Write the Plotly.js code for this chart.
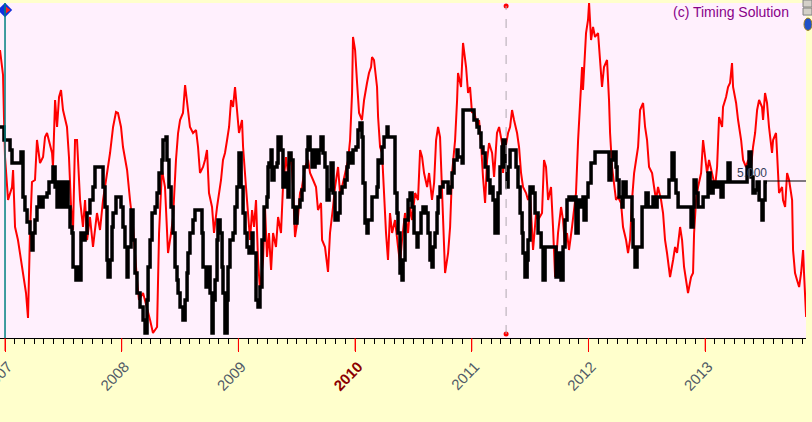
<!DOCTYPE html>
<html>
<head>
<meta charset="utf-8">
<script src="https://cdn.plot.ly/plotly-3.0.1.min.js"></script>
<style>html,body{margin:0;padding:0;background:#ffffcc;}#chart{width:812px;height:422px;}</style>
</head>
<body>
<div id="chart"></div>
<script>
// Tick labels (decimal years)
const yearTicks = [2007, 2008, 2009, 2010, 2011, 2012, 2013];
const yearLabels = ['2007', '2008', '2009', "<b><span style='color:#8b0000'>2010</span></b>", '2011', '2012', '2013'];

// Red series (decimal year, value)
const redYears = [2006.957,2006.983,2006.991,2007.000,2007.026,2007.060,2007.069,2007.086,2007.111,2007.137,2007.154,2007.180,2007.197,2007.214,2007.231,2007.257,2007.274,2007.300,2007.326,2007.343,2007.360,2007.377,2007.403,2007.411,2007.429,2007.446,2007.463,2007.480,2007.497,2007.531,2007.548,2007.566,2007.583,2007.600,2007.617,2007.643,2007.668,2007.686,2007.703,2007.728,2007.754,2007.788,2007.814,2007.840,2007.874,2007.900,2007.926,2007.951,2007.968,2007.994,2008.011,2008.046,2008.071,2008.097,2008.131,2008.148,2008.183,2008.217,2008.243,2008.268,2008.303,2008.320,2008.345,2008.371,2008.388,2008.397,2008.423,2008.440,2008.465,2008.483,2008.500,2008.525,2008.543,2008.560,2008.585,2008.611,2008.637,2008.654,2008.671,2008.697,2008.714,2008.731,2008.748,2008.774,2008.791,2008.817,2008.834,2008.851,2008.868,2008.885,2008.903,2008.920,2008.937,2008.954,2008.971,2008.988,2009.005,2009.031,2009.040,2009.065,2009.083,2009.100,2009.117,2009.134,2009.151,2009.168,2009.185,2009.211,2009.228,2009.245,2009.262,2009.280,2009.297,2009.322,2009.340,2009.365,2009.382,2009.408,2009.425,2009.451,2009.468,2009.485,2009.511,2009.528,2009.545,2009.571,2009.597,2009.614,2009.640,2009.665,2009.682,2009.708,2009.717,2009.742,2009.768,2009.785,2009.811,2009.828,2009.854,2009.871,2009.888,2009.914,2009.940,2009.957,2009.974,2009.982,2010.000,2010.017,2010.034,2010.059,2010.077,2010.102,2010.119,2010.137,2010.145,2010.162,2010.188,2010.197,2010.214,2010.231,2010.248,2010.265,2010.282,2010.299,2010.317,2010.342,2010.368,2010.385,2010.402,2010.428,2010.454,2010.471,2010.488,2010.514,2010.539,2010.557,2010.574,2010.591,2010.617,2010.634,2010.659,2010.677,2010.694,2010.711,2010.728,2010.745,2010.754,2010.771,2010.797,2010.814,2010.831,2010.839,2010.857,2010.874,2010.882,2010.908,2010.925,2010.951,2010.968,2010.985,2011.002,2011.019,2011.045,2011.062,2011.079,2011.096,2011.114,2011.131,2011.148,2011.174,2011.191,2011.216,2011.234,2011.259,2011.268,2011.285,2011.311,2011.328,2011.345,2011.362,2011.388,2011.405,2011.422,2011.439,2011.465,2011.482,2011.499,2011.525,2011.551,2011.568,2011.602,2011.619,2011.636,2011.654,2011.679,2011.696,2011.714,2011.739,2011.765,2011.782,2011.799,2011.816,2011.833,2011.859,2011.876,2011.893,2011.911,2011.928,2011.945,2011.953,2011.979,2011.996,2012.005,2012.022,2012.039,2012.056,2012.082,2012.099,2012.116,2012.133,2012.159,2012.176,2012.185,2012.202,2012.219,2012.236,2012.253,2012.279,2012.296,2012.322,2012.339,2012.356,2012.373,2012.391,2012.408,2012.425,2012.442,2012.468,2012.485,2012.502,2012.519,2012.545,2012.562,2012.579,2012.596,2012.622,2012.639,2012.656,2012.673,2012.699,2012.725,2012.742,2012.759,2012.785,2012.802,2012.819,2012.845,2012.853,2012.879,2012.896,2012.905,2012.922,2012.939,2012.965,2012.982,2013.000,2013.016,2013.033,2013.059,2013.085,2013.102,2013.119,2013.145,2013.153,2013.179,2013.196,2013.213,2013.230,2013.239,2013.265,2013.282,2013.308,2013.325,2013.350,2013.368,2013.393,2013.410,2013.428,2013.445,2013.462,2013.487,2013.496,2013.513,2013.530,2013.547,2013.573,2013.582,2013.607,2013.616,2013.633,2013.659,2013.667,2013.685,2013.702,2013.719,2013.745,2013.753,2013.770,2013.787,2013.805,2013.822,2013.839,2013.847,2013.865];
const redValues = [288,263,221,181,138,151,168,111,98,78,65,45,20,105,156,158,198,175,181,201,205,198,185,171,238,211,241,248,228,211,181,131,108,198,198,138,111,138,98,121,91,125,108,138,165,185,211,226,225,211,191,168,138,111,58,38,45,31,18,5,11,105,168,151,105,85,105,121,178,205,218,225,253,238,211,205,208,191,165,171,178,188,145,131,105,131,145,158,178,185,198,211,238,231,251,228,205,218,191,151,121,98,128,111,138,78,48,78,131,81,105,68,105,91,121,105,151,181,165,185,151,101,121,145,151,171,178,165,158,151,128,135,98,91,66,105,131,151,171,145,151,165,178,198,245,301,288,255,225,218,238,255,265,271,281,278,251,221,191,185,138,105,78,125,105,118,91,75,98,125,105,131,118,145,138,188,181,165,151,165,138,155,198,211,201,151,121,65,85,111,165,178,198,238,265,251,295,271,245,251,225,228,211,218,195,161,135,178,195,185,161,205,211,195,165,188,205,211,228,218,205,191,165,151,145,138,145,88,125,118,125,178,171,138,151,111,61,105,131,118,91,105,88,111,131,145,198,238,271,248,305,318,335,298,311,301,305,278,251,271,278,238,205,171,151,138,141,135,111,98,85,98,138,165,178,191,228,235,211,198,171,165,151,138,151,138,125,98,85,61,78,91,85,111,98,71,51,45,61,65,105,138,151,165,198,181,165,178,165,151,171,221,211,231,241,251,255,275,251,235,218,198,178,171,178,171,191,205,228,238,231,218,245,235,211,185,198,205,185,145,151,138,131,165,158,138,88,65,58,51,65,88,65,21];

// Black step series (decimal year, value)
const blackYears = [2006.957,2006.991,2007.043,2007.060,2007.129,2007.137,2007.154,2007.171,2007.189,2007.214,2007.231,2007.240,2007.257,2007.274,2007.291,2007.317,2007.326,2007.360,2007.377,2007.411,2007.429,2007.446,2007.454,2007.471,2007.488,2007.506,2007.523,2007.540,2007.557,2007.574,2007.583,2007.608,2007.617,2007.634,2007.651,2007.668,2007.686,2007.703,2007.728,2007.754,2007.771,2007.831,2007.840,2007.857,2007.874,2007.883,2007.900,2007.917,2007.926,2007.951,2007.994,2008.011,2008.028,2008.046,2008.054,2008.080,2008.097,2008.114,2008.131,2008.157,2008.183,2008.200,2008.217,2008.226,2008.243,2008.260,2008.286,2008.303,2008.320,2008.345,2008.354,2008.380,2008.388,2008.405,2008.423,2008.440,2008.457,2008.474,2008.483,2008.500,2008.525,2008.543,2008.560,2008.568,2008.585,2008.611,2008.628,2008.688,2008.697,2008.723,2008.740,2008.757,2008.774,2008.783,2008.800,2008.817,2008.825,2008.843,2008.860,2008.868,2008.885,2008.903,2008.911,2008.928,2008.954,2008.971,2008.988,2009.005,2009.023,2009.040,2009.057,2009.074,2009.091,2009.117,2009.125,2009.151,2009.168,2009.185,2009.202,2009.220,2009.245,2009.254,2009.262,2009.280,2009.288,2009.305,2009.331,2009.340,2009.365,2009.382,2009.408,2009.425,2009.434,2009.451,2009.468,2009.485,2009.502,2009.528,2009.545,2009.562,2009.588,2009.597,2009.614,2009.631,2009.657,2009.682,2009.691,2009.708,2009.725,2009.742,2009.760,2009.777,2009.794,2009.811,2009.828,2009.854,2009.871,2009.888,2009.914,2009.931,2009.940,2009.965,2009.982,2010.008,2010.025,2010.042,2010.059,2010.068,2010.085,2010.102,2010.111,2010.145,2010.188,2010.197,2010.222,2010.231,2010.248,2010.274,2010.282,2010.342,2010.359,2010.368,2010.385,2010.402,2010.411,2010.428,2010.454,2010.471,2010.488,2010.505,2010.531,2010.539,2010.565,2010.582,2010.608,2010.625,2010.642,2010.659,2010.668,2010.685,2010.702,2010.711,2010.728,2010.754,2010.797,2010.814,2010.831,2010.848,2010.874,2010.882,2010.917,2010.925,2011.019,2011.045,2011.062,2011.079,2011.096,2011.114,2011.139,2011.156,2011.174,2011.182,2011.199,2011.225,2011.242,2011.259,2011.268,2011.285,2011.302,2011.311,2011.328,2011.379,2011.396,2011.414,2011.431,2011.439,2011.456,2011.474,2011.482,2011.499,2011.525,2011.542,2011.568,2011.594,2011.611,2011.628,2011.722,2011.739,2011.765,2011.782,2011.799,2011.816,2011.833,2011.859,2011.868,2011.893,2011.911,2011.936,2011.953,2011.962,2011.979,2011.996,2012.022,2012.056,2012.176,2012.193,2012.211,2012.236,2012.245,2012.262,2012.288,2012.296,2012.322,2012.373,2012.382,2012.399,2012.416,2012.459,2012.493,2012.511,2012.553,2012.579,2012.588,2012.690,2012.716,2012.733,2012.750,2012.768,2012.879,2012.896,2012.905,2012.922,2012.939,2012.982,2013.025,2013.042,2013.068,2013.085,2013.110,2013.136,2013.153,2013.196,2013.213,2013.359,2013.376,2013.393,2013.410,2013.428,2013.445,2013.462,2013.487,2013.496,2013.513,2013.530];
const blackValues = [211,198,188,175,175,186,141,128,116,105,88,105,118,131,141,131,141,145,156,171,151,131,156,131,156,131,156,131,111,105,71,58,71,58,105,98,105,125,138,151,171,171,151,131,78,61,78,111,125,141,131,111,91,61,91,128,98,65,45,31,18,5,38,71,98,125,131,145,165,178,198,201,178,151,131,105,71,58,45,31,18,38,65,85,105,118,128,105,71,51,71,45,5,38,58,98,118,105,71,45,5,38,71,98,105,131,151,185,151,125,105,91,85,105,85,38,31,51,98,131,141,171,175,188,158,171,175,201,188,151,165,141,185,178,131,115,131,138,148,171,188,201,188,171,188,175,188,201,185,171,138,148,175,145,118,125,145,151,158,171,185,175,188,191,208,215,201,155,115,105,118,141,151,178,175,191,201,211,201,145,125,105,65,58,78,118,138,145,131,105,91,105,125,131,125,105,78,71,91,105,125,141,151,156,145,151,165,178,188,181,175,228,218,211,205,191,185,171,158,145,151,138,105,145,171,191,198,171,151,171,188,171,151,125,105,85,61,78,98,151,145,125,105,91,58,91,61,85,58,91,118,138,141,138,141,105,138,131,141,118,141,155,175,186,158,178,186,171,158,141,131,156,141,118,91,71,91,131,145,131,141,131,141,158,185,158,145,131,111,131,158,145,131,141,165,145,156,151,156,141,156,175,156,171,186,161,145,148,156,138,118,138,156,156];

// Reference level and markers
const levelValue = 157;
const levelLabel = '5.000';
const cursorYear = 2011.294;
const cursorValues = [332, 4];
const startYear = 2007.0;
const startMarkValue = 328;

const traces = [
  {x: redYears, y: redValues, type: 'scatter', mode: 'lines',
   line: {color: '#ff0000', width: 2}, hoverinfo: 'skip'},
  {x: blackYears, y: blackValues, type: 'scatter', mode: 'lines',
   line: {color: '#000000', width: 3.5, shape: 'hv'}, hoverinfo: 'skip'},
  {x: [cursorYear, cursorYear], y: cursorValues, type: 'scatter', mode: 'markers',
   marker: {color: '#ff0000', size: 5}, hoverinfo: 'skip'},
  {x: [startYear], y: [startMarkValue], type: 'scatter', mode: 'markers',
   marker: {color: '#1030e0', size: 11, symbol: 'diamond'}, hoverinfo: 'skip'},
  {x: [startYear + 0.02], y: [startMarkValue], type: 'scatter', mode: 'markers',
   marker: {color: '#ff2020', size: 6, symbol: 'triangle-right'}, hoverinfo: 'skip'}
];

// red year tick marks below the axis, one per labelled year
const yearTickShapes = yearTicks.map(function (yr) {
  return {type: 'line', xref: 'x', yref: 'paper', x0: yr, x1: yr, y0: 0, y1: -13 / 335,
          line: {color: '#ff0000', width: 1}};
});

const layout = {
  width: 812, height: 422,
  margin: {l: 0, r: 6, t: 3, b: 84, pad: 0},
  paper_bgcolor: '#ffffcc',
  plot_bgcolor: '#fff0fd',
  showlegend: false,
  hovermode: false,
  font: {family: 'Liberation Sans, Arial, sans-serif'},
  xaxis: {
    range: [2006.957, 2013.864],
    tickmode: 'array', tickvals: yearTicks, ticktext: yearLabels,
    ticks: 'outside', ticklen: 13, tickcolor: '#ff0000', tickwidth: 1,
    tickangle: -46,
    ticklabeloverflow: 'allow',
    ticklabelstandoff: 0,
    ticklabelshift: 3,
    tickfont: {family: 'Liberation Sans, Arial, sans-serif', size: 15, color: '#505a66'},
    showgrid: false, zeroline: false,
    showline: true, linecolor: '#000000', linewidth: 1,
    minor: {tick0: 2007, dtick: 1/12, ticks: 'outside', ticklen: 5, tickcolor: '#000000', tickwidth: 1, showgrid: false}
  },
  yaxis: {
    range: [0, 335], visible: false, showgrid: false, zeroline: false, fixedrange: true
  },
  shapes: [
    {type: 'line', xref: 'x', yref: 'paper', x0: startYear, x1: startYear, y0: 0, y1: 1,
     line: {color: '#008080', width: 1.5}},
    {type: 'line', xref: 'x', yref: 'y', x0: cursorYear, x1: cursorYear, y0: cursorValues[1], y1: cursorValues[0],
     line: {color: '#b0a8b0', width: 1, dash: 'dash'}},
    {type: 'line', xref: 'x', yref: 'y', x0: 2013.530, x1: 2013.864, y0: levelValue, y1: levelValue,
     line: {color: '#000000', width: 1}},
    {type: 'rect', xref: 'paper', yref: 'paper', x0: 0.9963, x1: 1.0074, y0: 0.988, y1: 1.009,
     fillcolor: '#d4d0c8', line: {color: '#808080', width: 1}},
    {type: 'rect', xref: 'paper', yref: 'paper', x0: 0.9963, x1: 1.0074, y0: 0.964, y1: 0.985,
     fillcolor: '#d4d0c8', line: {color: '#808080', width: 1}},
    {type: 'circle', xref: 'paper', yref: 'paper', x0: 0.9975, x1: 1.0074, y0: 0.918, y1: 0.955,
     fillcolor: '#2050c8', line: {color: '#a08020', width: 1}}
  ].concat(yearTickShapes),
  annotations: [
    {text: '(c) Timing Solution', xref: 'paper', yref: 'paper', x: 0.981, y: 0.973,
     xanchor: 'right', yanchor: 'middle', showarrow: false,
     font: {family: 'Liberation Sans, Arial, sans-serif', size: 14, color: '#880088'}},
    {text: levelLabel, xref: 'x', yref: 'y', x: 2013.40, y: levelValue + 8,
     xanchor: 'center', yanchor: 'middle', showarrow: false,
     font: {family: 'Liberation Sans, Arial, sans-serif', size: 12, color: '#34405a'}}
  ]
};

Plotly.newPlot('chart', traces, layout, {displayModeBar: false, staticPlot: true});
</script>
</body>
</html>
